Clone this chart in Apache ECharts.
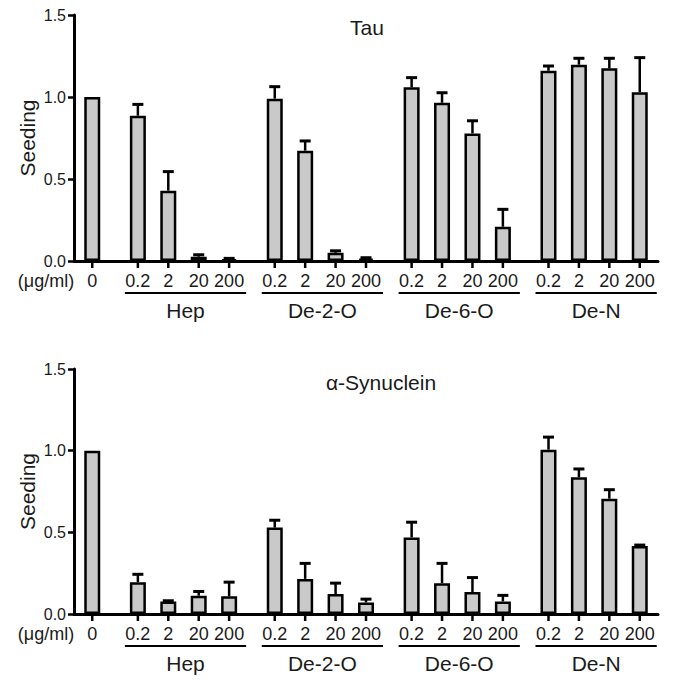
<!DOCTYPE html>
<html>
<head>
<meta charset="utf-8">
<script src="https://cdn.jsdelivr.net/npm/echarts@6/dist/echarts.min.js"></script>
<style>
html,body{margin:0;padding:0;background:#fff;}
#chart{width:693px;height:692px;}
</style>
</head>
<body>
<div id="chart"></div>
<script>
// ---- data ----
const groups = ['Hep', 'De-2-O', 'De-6-O', 'De-N'];
const doses = ['0.2', '2', '20', '200'];
const controlLabel = '0';
const unitLabel = '(\u03bcg/ml)';
const yTicks = [0, 0.5, 1.0, 1.5];

const tauControl = 1.0;
const tauMean = [0.886, 0.429, 0.026, 0.010,   0.990, 0.673, 0.050, 0.014,
                 1.059, 0.965, 0.778, 0.209,   1.160, 1.197, 1.175, 1.029];
const tauErr  = [0.069, 0.116, 0.012, 0.006,   0.073, 0.059, 0.012, 0.006,
                 0.059, 0.061, 0.077, 0.106,   0.029, 0.039, 0.061, 0.211];

const synControl = 1.0;
const synMean = [0.195, 0.077, 0.112, 0.108,   0.529, 0.215, 0.122, 0.071,
                 0.469, 0.189, 0.134, 0.077,   1.006, 0.838, 0.706, 0.416];
const synErr  = [0.048, 0.004, 0.026, 0.087,   0.045, 0.095, 0.067, 0.020,
                 0.093, 0.121, 0.089, 0.037,   0.077, 0.050, 0.055, 0.006];

const panelTitles = ['Tau', '\u03b1-Synuclein'];
const yName = 'Seeding';

// ---- layout helpers ----
const FONT = 'Liberation Sans, Arial, Helvetica, sans-serif';
const TXT = '#1a1a1a';
const X_MIN = -0.6, X_MAX = 18.6;
const ctrlPos = 0;
function barPos(g, d) { return 1.5 + 4.5 * g + d; }

function buildBars(ctrl, means) {
  const out = [[ctrlPos, ctrl]];
  groups.forEach((g, gi) => doses.forEach((d, di) => out.push([barPos(gi, di), means[gi * 4 + di]])));
  return out;
}
function buildErr(means, errs) {
  const out = [];
  groups.forEach((g, gi) => doses.forEach((d, di) => {
    const k = gi * 4 + di;
    out.push([barPos(gi, di), means[k], means[k] + errs[k]]);
  }));
  return out;
}
const tickItems = [[ctrlPos, 0]];
const tickTexts = [controlLabel];
groups.forEach((g, gi) => doses.forEach((d, di) => { tickItems.push([barPos(gi, di), 0]); tickTexts.push(d); }));
const groupItems = groups.map((g, gi) => [barPos(gi, 0), barPos(gi, 3)]);
const yLabelItems = yTicks.map(v => [X_MIN, v]);

const panels = [
  { top: 15, height: 246, ctrl: tauControl, mean: tauMean, err: tauErr, titleY: 27, titleX: 367 },
  { top: 369, height: 245, ctrl: synControl, mean: synMean, err: synErr, titleY: 382, titleX: 381 }
];

const grid = [], xAxis = [], yAxis = [], series = [], graphic = [];
panels.forEach((p, i) => {
  grid.push({ left: 74, width: 584, top: p.top, height: p.height, containLabel: false });
  xAxis.push({
    type: 'value', gridIndex: i, min: X_MIN, max: X_MAX,
    axisLine: { show: true, onZero: false, lineStyle: { color: '#000', width: 3 } },
    axisTick: { show: false }, axisLabel: { show: false }, splitLine: { show: false }
  });
  yAxis.push({
    type: 'value', gridIndex: i, min: 0, max: 1.5, interval: 0.5,
    axisLine: { show: true, onZero: false, lineStyle: { color: '#000', width: 3 } },
    axisTick: { show: true, length: 6, lineStyle: { color: '#000', width: 2.5 } },
    axisLabel: { show: false },
    splitLine: { show: false }
  });
  series.push({
    type: 'bar', xAxisIndex: i, yAxisIndex: i, barWidth: 16,
    data: buildBars(p.ctrl, p.mean),
    itemStyle: { color: '#c9c9c9', borderColor: '#000', borderWidth: 2.5 },
    animation: false, z: 2
  });
  series.push({
    type: 'custom', xAxisIndex: i, yAxisIndex: i, animation: false, z: 3,
    data: buildErr(p.mean, p.err),
    renderItem: (params, api) => {
      const a = api.coord([api.value(0), api.value(1)]);
      const b = api.coord([api.value(0), api.value(2)]);
      return { type: 'group', children: [
        { type: 'line', shape: { x1: a[0], y1: a[1], x2: b[0], y2: b[1] }, style: { stroke: '#000', lineWidth: 2.5 } },
        { type: 'line', shape: { x1: b[0] - 5.5, y1: b[1], x2: b[0] + 5.5, y2: b[1] }, style: { stroke: '#000', lineWidth: 3 } }
      ]};
    }
  });
  // y tick labels + y axis name
  series.push({
    type: 'custom', xAxisIndex: i, yAxisIndex: i, animation: false, z: 3,
    data: yLabelItems,
    renderItem: (params, api) => {
      const c = api.coord([api.value(0), api.value(1)]);
      const children = [
        { type: 'text', x: c[0] - 8, y: c[1], style: { text: yTicks[params.dataIndex].toFixed(1), fontFamily: FONT, fontSize: 16, fill: TXT, align: 'right', verticalAlign: 'middle' } }
      ];
      if (params.dataIndex === 0) {
        const mid = api.coord([X_MIN, 0.75]);
        children.push({ type: 'text', x: mid[0] - 47, y: mid[1], rotation: Math.PI / 2,
          style: { text: yName, fontFamily: FONT, fontSize: 21, fill: TXT, align: 'center', verticalAlign: 'middle' } });
      }
      return { type: 'group', children };
    }
  });
  // x ticks + labels
  series.push({
    type: 'custom', xAxisIndex: i, yAxisIndex: i, animation: false, z: 3,
    data: tickItems,
    renderItem: (params, api) => {
      const c = api.coord([api.value(0), 0]);
      const children = [
        { type: 'line', shape: { x1: c[0], y1: c[1], x2: c[0], y2: c[1] + 7 }, style: { stroke: '#000', lineWidth: 2.5 } },
        { type: 'text', x: c[0], y: c[1] + 20, style: { text: tickTexts[params.dataIndex], fontFamily: FONT, fontSize: 18, fill: TXT, align: 'center', verticalAlign: 'middle' } }
      ];
      if (params.dataIndex === 0) {
        const left = api.coord([X_MIN, 0]);
        children.push({ type: 'text', x: left[0] - 28, y: c[1] + 20, style: { text: unitLabel, fontFamily: FONT, fontSize: 18, fill: TXT, align: 'center', verticalAlign: 'middle' } });
      }
      return { type: 'group', children };
    }
  });
  // group underline + group names
  series.push({
    type: 'custom', xAxisIndex: i, yAxisIndex: i, animation: false, z: 3,
    data: groupItems,
    renderItem: (params, api) => {
      const s = api.coord([api.value(0), 0]);
      const e = api.coord([api.value(1), 0]);
      const y = s[1] + 32;
      return { type: 'group', children: [
        { type: 'line', shape: { x1: s[0] - 13, y1: y, x2: e[0] + 17, y2: y }, style: { stroke: '#000', lineWidth: 2 } },
        { type: 'text', x: (s[0] + e[0]) / 2 + 2, y: y + 17, style: { text: groups[params.dataIndex], fontFamily: FONT, fontSize: 21, fill: TXT, align: 'center', verticalAlign: 'middle' } }
      ]};
    }
  });
  graphic.push({ type: 'text', x: p.titleX, y: p.titleY, style: { text: panelTitles[i], fontFamily: FONT, fontSize: 21, fill: TXT, align: 'center', verticalAlign: 'middle' } });
});

const chart = echarts.init(document.getElementById('chart'), null, { renderer: 'svg' });
chart.setOption({
  animation: false,
  backgroundColor: '#fff',
  grid, xAxis, yAxis, series, graphic
});
</script>
</body>
</html>
